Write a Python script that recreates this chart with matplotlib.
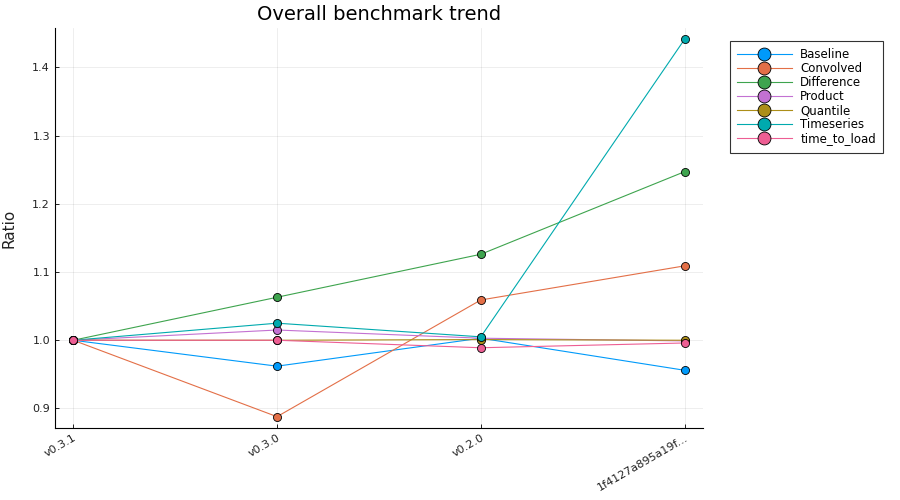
import matplotlib
matplotlib.use("Agg")
import matplotlib.pyplot as plt

# data
versions = ["v0.3.1", "v0.3.0", "v0.2.0", "1f4127a895a19f..."]
baseline = [1.0, 0.962, 1.003, 0.956]
convolved = [1.0, 0.888, 1.059, 1.109]
difference = [1.0, 1.063, 1.126, 1.247]
product = [1.0, 1.015, 1.003, 0.999]
quantile = [1.0, 1.0, 1.001, 1.0]
timeseries = [1.0, 1.025, 1.005, 1.441]
time_to_load = [1.0, 1.0, 0.989, 0.996]

series = {
    "Baseline": baseline,
    "Convolved": convolved,
    "Difference": difference,
    "Product": product,
    "Quantile": quantile,
    "Timeseries": timeseries,
    "time_to_load": time_to_load,
}
palette = ["#009AFA", "#E36F47", "#3EA44E", "#C371D2", "#AC8E18", "#00AAAE", "#ED5E93"]

fig = plt.figure(figsize=(9, 5), dpi=100)
ax = fig.add_axes([0.061, 0.144, 0.72, 0.80])

x = list(range(len(versions)))
for (name, vals), col in zip(series.items(), palette):
    ax.plot(x, vals, color=col, lw=0.8, marker="o", ms=5.8,
            markerfacecolor=col, markeredgecolor="black", markeredgewidth=0.6,
            label=name)

ax.set_xlim(-0.09, 3.09)
ax.set_ylim(0.8714, 1.4576)
ax.set_xticks(x)
ax.set_xticklabels(versions, rotation=30, ha="right", rotation_mode="anchor")
ax.set_yticks([0.9, 1.0, 1.1, 1.2, 1.3, 1.4])
ax.tick_params(direction="in", length=3, width=0.6, labelsize=8, colors="black",
               labelcolor="#222222")
ax.grid(True, color="black", alpha=0.08, lw=0.6)
for s in ["top", "right"]:
    ax.spines[s].set_visible(False)
for s in ["left", "bottom"]:
    ax.spines[s].set_linewidth(0.8)

ax.set_title("Overall benchmark trend", fontsize=14)
# the reference clips this label at the left edge; keep it just inside
fig.text(0.0095, 0.544, "Ratio", rotation=90, fontsize=11, va="center", ha="center",
         color="#222222")

leg = ax.legend(loc="upper left", bbox_to_anchor=(1.042, 0.9675), fontsize=8.5,
                frameon=True, fancybox=False, edgecolor="black",
                borderpad=0.6, labelspacing=0.09, handlelength=4.6,
                markerscale=1.6, handletextpad=0.75, borderaxespad=0)
leg.get_frame().set_linewidth(0.8)

fig.savefig("out.png", dpi=100)
